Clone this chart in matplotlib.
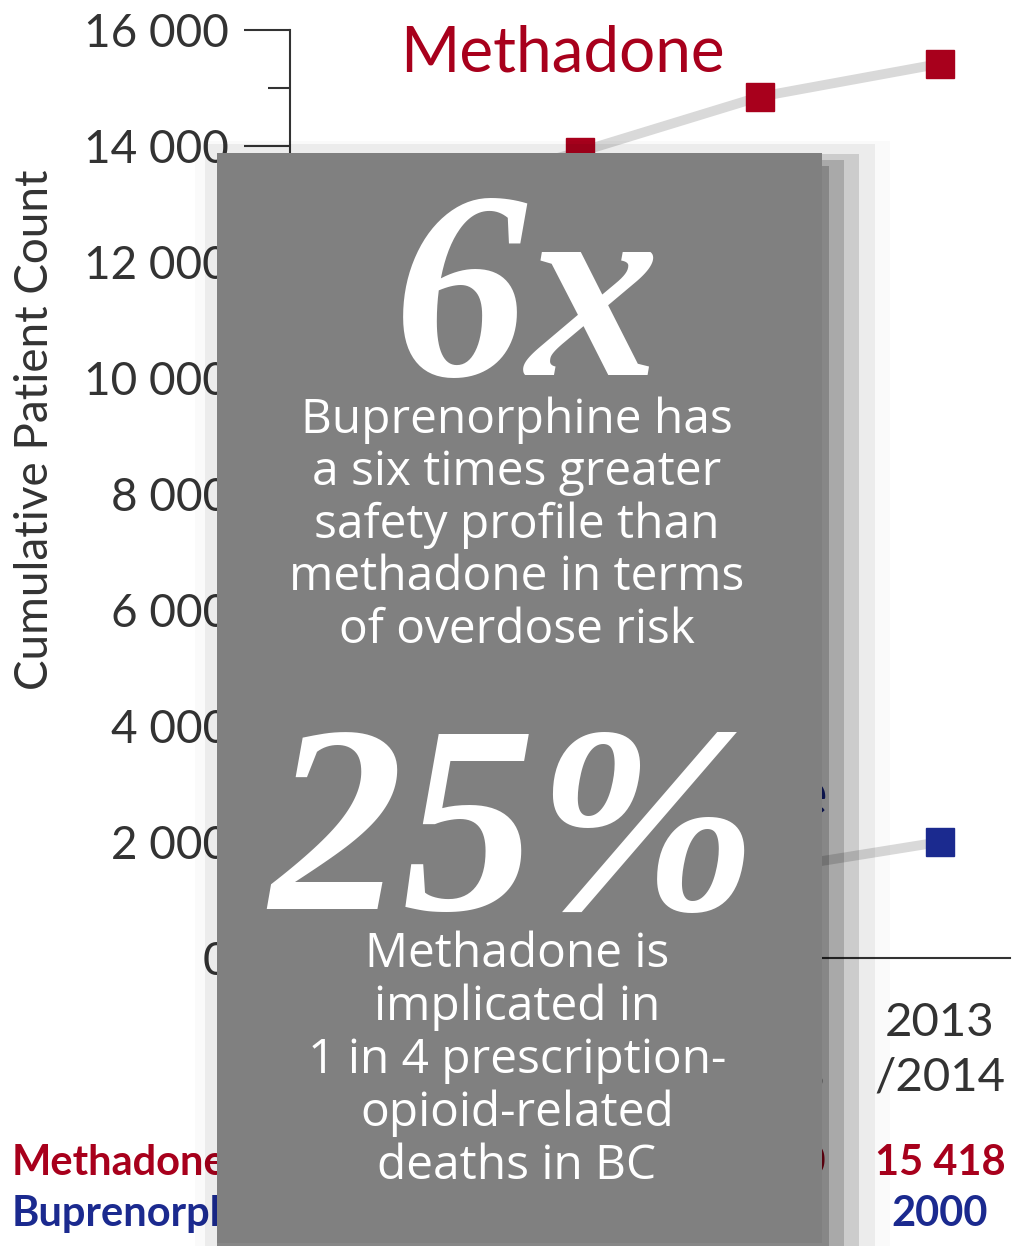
import matplotlib
matplotlib.use("agg")
import matplotlib.pyplot as plt
from matplotlib.patches import Rectangle
from matplotlib.ticker import FuncFormatter, MultipleLocator

# cumulative patient counts per fiscal year
years = ["2010\n/2011", "2011\n/2012", "2012\n/2013", "2013\n/2014"]
methadone = [13050, 13900, 14850, 15418]
buprenorphine = [600, 1050, 1500, 2000]

RED = "#a8001c"
BLUE = "#1b2a8f"
INK = "#333333"
plt.rcParams["font.family"] = ["Lato", "DejaVu Sans"]

W, H = 1018, 1246
fig = plt.figure(figsize=(W / 100, H / 100), dpi=100)
fig.patch.set_facecolor("white")

# main chart axes, placed in pixel terms
x0, x1, ytop, ybot = 290, 1010, 30, 958
ax = fig.add_axes([x0 / W, 1 - ybot / H, (x1 - x0) / W, (ybot - ytop) / H])
ax.set_xlim(-0.611, 3.389)
ax.set_ylim(0, 16000)
for s in ["top", "right"]:
    ax.spines[s].set_visible(False)
for s in ["left", "bottom"]:
    ax.spines[s].set_color(INK)
    ax.spines[s].set_linewidth(1.5)

xs = range(len(years))
ax.plot(xs, methadone, color="#d9d9d9", lw=7, solid_capstyle="butt", zorder=2)
ax.plot(xs, buprenorphine, color="#d9d9d9", lw=7, solid_capstyle="butt", zorder=2)
ax.plot(xs, methadone, "s", ms=20, color=RED, zorder=3, clip_on=False)
ax.plot(xs, buprenorphine, "s", ms=20, color=BLUE, zorder=3, clip_on=False)

ax.yaxis.set_major_locator(MultipleLocator(2000))
ax.yaxis.set_minor_locator(MultipleLocator(1000))
ax.yaxis.set_major_formatter(FuncFormatter(lambda v, p: "0" if v == 0 else f"{int(v):,}".replace(",", " ")))
ax.tick_params(axis="y", which="major", length=33, width=1.5, color=INK, pad=11, labelsize=33, labelcolor=INK)
ax.tick_params(axis="y", which="minor", length=16, width=1.5, color=INK)
ax.set_xticks(list(xs), years)
ax.tick_params(axis="x", length=0, pad=32, labelsize=34, labelcolor=INK)
for lab in ax.get_xticklabels():
    lab.set_linespacing(1.35)

ax.set_ylabel("Cumulative Patient Count", fontsize=33, color=INK)
ax.yaxis.set_label_coords(-0.354, 0.569)
ax.yaxis.label.set_va("center")

# value table under the axis
for i in xs:
    ax.text(i, -0.2338, f"{methadone[i]:,}".replace(",", " "), transform=ax.get_xaxis_transform(),
            ha="center", va="baseline", fontsize=30, fontweight="bold", color=RED)
    ax.text(i, -0.2888, str(buprenorphine[i]), transform=ax.get_xaxis_transform(),
            ha="center", va="baseline", fontsize=30, fontweight="bold", color=BLUE)

# overlay in pixel coordinates for labels and the fact box
ov = fig.add_axes([0, 0, 1, 1], zorder=5)
ov.set_xlim(0, W)
ov.set_ylim(H, 0)
ov.axis("off")

lab = dict(va="baseline", zorder=0.5)
ov.text(12, 1175, "Methadone", ha="left", fontsize=30, fontweight="bold", color=RED, **lab)
ov.text(12, 1226, "Buprenorphine", ha="left", fontsize=30, fontweight="bold", color=BLUE, **lab)
ov.text(562, 71, "Methadone", ha="center", fontsize=46, color=RED, **lab)
ov.text(828, 815, "Buprenorphine", ha="right", fontsize=46, color=BLUE, **lab)

# soft drop shadow behind the box
bl, br, bt, bb = 217, 822, 153, 1243
for left, right, top, a in [(195, 890, 141, 0.02), (205, 875, 144, 0.056),
                            (217, 859, 154, 0.135), (217, 844, 160, 0.167),
                            (217, 829, 166, 0.2)]:
    ov.add_patch(Rectangle((left, top), right - left, H + 10 - top, facecolor="black",
                           alpha=a, edgecolor="none", zorder=1))
ov.add_patch(Rectangle((bl, bt), br - bl, bb - bt, facecolor="#808080", edgecolor="none", zorder=2))

big = dict(family=["Liberation Serif", "DejaVu Serif"], fontstyle="italic", fontweight="bold",
           color="white", ha="center", va="baseline", zorder=3)
ov.text(527, 375, "6x", fontsize=192, **big)
ov.text(514, 909, "25%", fontsize=192, **big)

body = dict(family=["Open Sans", "DejaVu Sans"], fontsize=34.5, color="white",
            ha="center", va="baseline", zorder=3)
lines1 = ["Buprenorphine has", "a six times greater", "safety profile than",
          "methadone in terms", "of overdose risk"]
lines2 = ["Methadone is", "implicated in", "1 in 4 prescription-",
          "opioid-related", "deaths in BC"]
for k, t in enumerate(lines1):
    ov.text(517, 433 + k * 52.5, t, **body)
for k, t in enumerate(lines2):
    ov.text(517, 967 + k * 53, t, **body)

fig.savefig("out.png", dpi=100)
